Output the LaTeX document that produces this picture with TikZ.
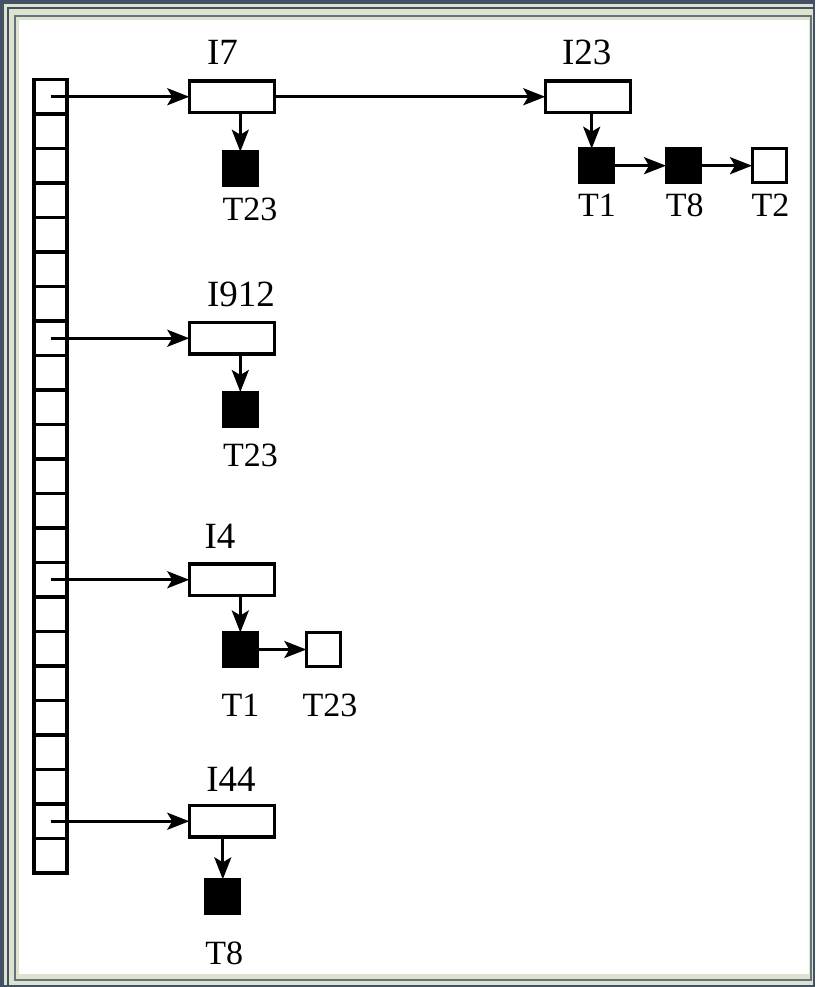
\documentclass[tikz,border=0pt]{standalone}
\usepackage{fontspec}
\setmainfont{Liberation Serif}
\usetikzlibrary{arrows.meta}
\definecolor{framedark}{HTML}{435166}
\definecolor{framelight}{HTML}{DDE3CC}
\definecolor{framegrey}{HTML}{66737F}
\begin{document}
\begin{tikzpicture}[x=1pt,y=-1pt,
  cell/.style={draw, line width=3.4pt, minimum width=33pt, minimum height=34.5pt, inner sep=0pt, outer sep=0pt},
  ibox/.style={draw, line width=3.4pt, fill=white, minimum width=85.5pt, minimum height=31.5pt, inner sep=0pt, outer sep=0pt},
  tsq/.style={draw, line width=3pt, fill=black, minimum width=34pt, minimum height=34pt, inner sep=0pt, outer sep=0pt},
  tsqw/.style={tsq, fill=white},
  arr/.style={line width=2.9pt, -{Stealth[length=22pt,width=17pt,inset=5pt]}},
  ilab/.style={anchor=base, inner sep=0pt, font=\fontsize{37}{42}\selectfont},
  tlab/.style={anchor=base, inner sep=0pt, font=\fontsize{34}{40}\selectfont}]
% frame
\useasboundingbox (0,0) rectangle (815,987);
\fill[framedark] (0,0) rectangle (815,987);
\fill[framelight] (3.5,4.5) rectangle (813,985);
\draw[framedark, line width=2.3pt] (8,985) -- (8,8.3) -- (813,8.3);
\draw[framegrey, line width=2pt] (15,16) rectangle (811,979.5);
\fill[white] (19,20) rectangle (808.5,974);
% array
\foreach \i in {0,...,22} {
  \node[cell] (c\i) at (50.5, {79.5+34.5*\i+17.25}) {};
}
% index boxes
\node[ibox] (I7) at (232, 96.75) {};
\node[ibox] (I23) at (588, 96.75) {};
\node[ibox] (I912) at (232, 338.25) {};
\node[ibox] (I4) at (232, 579.75) {};
\node[ibox] (I44) at (232, 821.25) {};
% index labels
\node[ilab] (lI7) at (222.5, 65) {I7};
\node[ilab] (lI23) at (586.7, 65) {I23};
\node[ilab] (lI912) at (241, 306.7) {I912};
\node[ilab] (lI4) at (220, 548.3) {I4};
\node[ilab] (lI44) at (231, 791) {I44};
% squares
\node[tsq] (s7a) at (240.3, 168.7) {};
\node[tsq] (s23a) at (596.7, 165.7) {};
\node[tsq] (s23b) at (683, 165.7) {};
\node[tsqw] (s23c) at (769, 165.7) {};
\node[tsq] (s912a) at (240.3, 409) {};
\node[tsq] (s4a) at (240.3, 649.5) {};
\node[tsqw] (s4b) at (323.3, 649.5) {};
\node[tsq] (s44a) at (222.8, 896.3) {};
% square labels
\node[tlab] (l7a) at (250, 220) {T23};
\node[tlab] (l23a) at (597, 216.7) {T1};
\node[tlab] (l23b) at (684.7, 216.7) {T8};
\node[tlab] (l23c) at (770.5, 216.7) {T2};
\node[tlab] (l912a) at (250.5, 466.7) {T23};
\node[tlab] (l4a) at (240.5, 716.7) {T1};
\node[tlab] (l4b) at (330, 716.7) {T23};
\node[tlab] (l44a) at (224.3, 964) {T8};
% connectors from array
\draw[arr] (c0.center) -- (c0.center -| I7.west);
\draw[arr] (c7.center) -- (c7.center -| I912.west);
\draw[arr] (c14.center) -- (c14.center -| I4.west);
\draw[arr] (c21.center) -- (c21.center -| I44.west);
% I7 -> I23
\draw[arr] (I7.east) -- (I23.west);
% down arrows
\draw[arr] (s7a.north |- I7.south) -- (s7a.north);
\draw[arr] ([xshift=-5pt]s23a.north |- I23.south) -- ([xshift=-5pt]s23a.north);
\draw[arr] (s912a.north |- I912.south) -- (s912a.north);
\draw[arr] (s4a.north |- I4.south) -- (s4a.north);
\draw[arr] (s44a.north |- I44.south) -- (s44a.north);
% chains
\draw[arr] (s23a.east) -- (s23b.west);
\draw[arr] (s23b.east) -- (s23c.west);
\draw[arr] (s4a.east) -- (s4b.west);
\end{tikzpicture}
\end{document}
